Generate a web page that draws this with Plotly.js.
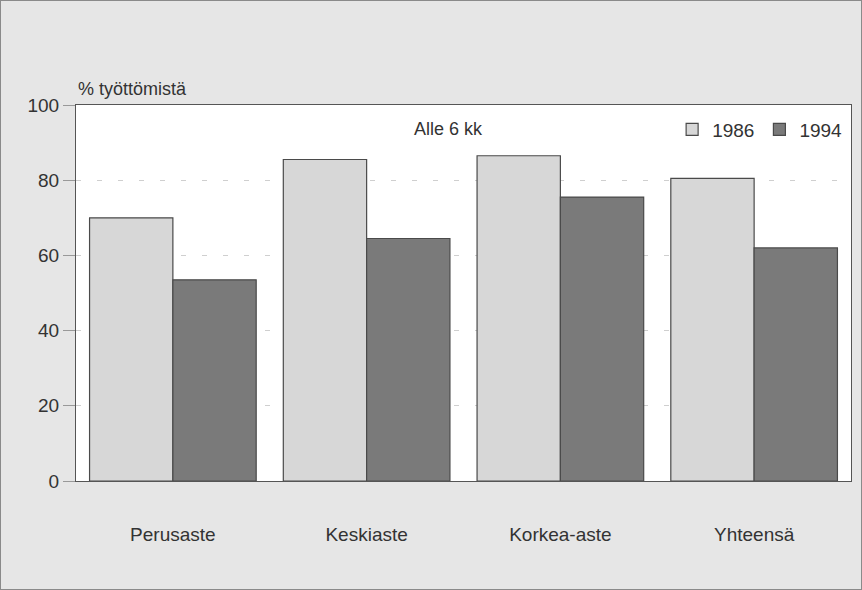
<!DOCTYPE html>
<html>
<head>
<meta charset="utf-8">
<script src="https://cdn.plot.ly/plotly-3.0.1.min.js"></script>
<style>
html,body{margin:0;padding:0;background:#e6e6e6;}
#chart{width:860px;height:588px;border:1px solid #8a8a8a;}
</style>
</head>
<body>
<div id="chart"></div>
<script>
var categories = ["Perusaste", "Keskiaste", "Korkea-aste", "Yhteensä"];
var values1986 = [70, 85.5, 86.5, 80.5];
var values1994 = [53.5, 64.5, 75.5, 62];
var seriesNames = ["1986", "1994"];
var yTicks = [0, 20, 40, 60, 80, 100];

var FONT = "Liberation Sans, Arial, sans-serif";

var traces = [
  {type: "bar", name: seriesNames[0], x: categories, y: values1986,
   marker: {color: "#d7d7d7", line: {color: "#4a4a4a", width: 1.2}}},
  {type: "bar", name: seriesNames[1], x: categories, y: values1994,
   marker: {color: "#7a7a7a", line: {color: "#4a4a4a", width: 1.2}}}
];

var layout = {
  width: 860, height: 588,
  paper_bgcolor: "#e6e6e6",
  plot_bgcolor: "#ffffff",
  margin: {l: 75, r: 10, t: 104, b: 108},
  barmode: "group",
  bargap: 0.14,
  bargroupgap: 0,
  font: {family: FONT, color: "#333333", size: 18},
  xaxis: {
    showline: true, linecolor: "#555555", linewidth: 1, mirror: true,
    ticks: "", showgrid: false, ticklabelstandoff: 36,
    tickfont: {size: 19, family: FONT, color: "#333333"}
  },
  yaxis: {
    range: [0, 100], tickvals: yTicks, ticktext: yTicks.map(String),
    showline: true, linecolor: "#555555", linewidth: 1, mirror: true,
    ticks: "outside", ticklen: 12, tickcolor: "#999999", tickwidth: 1,
    showgrid: true, gridcolor: "#cfcfcf", griddash: "5px,16px", gridwidth: 1,
    zeroline: false,
    tickfont: {size: 19, family: FONT, color: "#333333"}
  },
  showlegend: true,
  legend: {
    orientation: "h", x: 0.995, xanchor: "right", y: 0.935, yanchor: "middle",
    bgcolor: "rgba(0,0,0,0)", font: {size: 19, family: FONT, color: "#333333"},
    itemwidth: 30, traceorder: "normal"
  },
  annotations: [
    {text: "% työttömistä", xref: "paper", yref: "paper", x: 0, y: 1.01,
     xanchor: "left", yanchor: "bottom", showarrow: false,
     font: {size: 18, family: FONT, color: "#333333"}},
    {text: "Alle 6 kk", xref: "paper", yref: "paper", x: 0.48, y: 0.935,
     xanchor: "center", yanchor: "middle", showarrow: false,
     font: {size: 18, family: FONT, color: "#333333"}}
  ]
};

Plotly.newPlot("chart", traces, layout, {displayModeBar: false, staticPlot: true});
</script>
</body>
</html>
